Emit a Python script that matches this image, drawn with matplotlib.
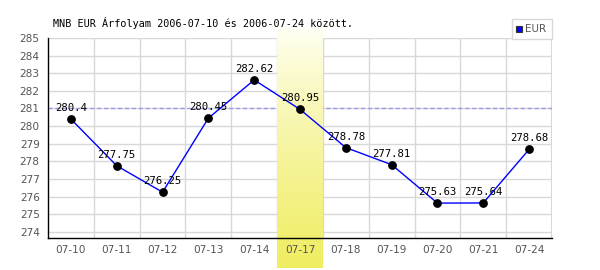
import numpy as np
import matplotlib
matplotlib.use('Agg')
import matplotlib.pyplot as plt
from matplotlib.patches import Rectangle

# daily EUR rates from the MNB chart
dates = ['07-10', '07-11', '07-12', '07-13', '07-14', '07-17',
         '07-18', '07-19', '07-20', '07-21', '07-24']
rates = [280.4, 277.75, 276.25, 280.45, 282.62, 280.95,
         278.78, 277.81, 275.63, 275.64, 278.68]
rate_labels = ['280.4', '277.75', '276.25', '280.45', '282.62', '280.95',
               '278.78', '277.81', '275.63', '275.64', '278.68']
ref_level = 281
highlight = '07-17'
yticks = list(range(274, 286))

fig = plt.figure(figsize=(6, 2.7), dpi=100)
ax = fig.add_axes([48 / 600, 32 / 270, 504 / 600, 200 / 270])
ax.set_axisbelow(False)

x = np.arange(len(dates))

# grid between categories
for gx in x[:-1] + 0.5:
    ax.axvline(gx, color='#d8d8d8', lw=1, zorder=0.1)
ax.axvline(len(dates) - 0.5, color='#d8d8d8', lw=1.5, zorder=0.1)
for gy in yticks:
    ax.axhline(gy, color='#d8d8d8', lw=1, zorder=0.1)

ax.axhline(ref_level, color='#9999ee', lw=1, ls=(0, (3, 2)), zorder=0.2)

# highlighted day, gradient from white to yellow, runs below the axis
hi = dates.index(highlight)
grad = np.linspace(0, 1, 256).reshape(-1, 1)
top_c = np.array([1.0, 1.0, 0.97])
bot_c = np.array([0.94, 0.93, 0.38])
img = top_c + (bot_c - top_c) * grad[..., None] ** 0.8
img = img.reshape(256, 1, 3)
ax.imshow(img, extent=(hi - 0.5, hi + 0.5, 271.95, 285.6), aspect='auto',
          origin='upper', zorder=0.5, clip_on=False)
ax.set_xlim(-0.5, len(dates) - 0.5)
ax.set_ylim(273.65, 285)

ax.plot(x, rates, color='blue', lw=1, zorder=3)
ax.scatter(x, rates, s=28, color='black', zorder=4)
for xi, yi, lab in zip(x, rates, rate_labels):
    ax.text(xi, yi + 0.62, lab, ha='center', va='center', fontsize=7.7,
            family='DejaVu Sans Mono', color='black', zorder=5)

ax.set_xticks(x)
ax.set_xticklabels(dates)
ax.set_yticks(yticks)
ax.tick_params(length=0, labelsize=7.6, colors='#555555')
ax.tick_params(axis='x', pad=5)
ax.tick_params(axis='y', pad=6)
for s in ['top', 'right']:
    ax.spines[s].set_visible(False)
for s in ['left', 'bottom']:
    ax.spines[s].set_color('black')
    ax.spines[s].set_linewidth(1)
    ax.spines[s].set_zorder(6)

fig.text(53 / 600, 1 - 23 / 270, 'MNB EUR Árfolyam 2006-07-10 és 2006-07-24 között.',
         family='DejaVu Sans Mono', fontsize=7.3, va='center', ha='left')

# legend box
fig.patches.append(Rectangle((512 / 600, 1 - 39 / 270), 40 / 600, 20 / 270,
                             transform=fig.transFigure, fc='white', ec='#d8d8d8', lw=1))
fig.patches.append(Rectangle((516 / 600, 1 - 32 / 270), 6 / 600, 6 / 270,
                             transform=fig.transFigure, fc='blue', ec='#333333', lw=0.8))
fig.text(525 / 600, 1 - 29 / 270, 'EUR', fontsize=7.5, color='#555555', va='center', ha='left')

fig.savefig('out.png', dpi=100)
